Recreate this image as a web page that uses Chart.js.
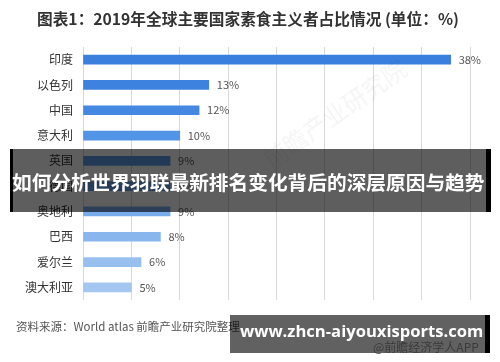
<!DOCTYPE html>
<html>
<head>
<meta charset="utf-8">
<script src="https://cdn.jsdelivr.net/npm/chart.js@4"></script>
<style>
 body{margin:0;background:#fff;}
 #wrap{position:relative;width:500px;height:362px;overflow:hidden;background:#fff;font-family:"Noto Sans CJK SC","Noto Sans",sans-serif;}
 #chart_paper{position:absolute;left:0;top:0;}
 .txt{position:absolute;white-space:nowrap;}
 #title{left:37px;top:7px;font-size:15.7px;font-weight:bold;color:#333;}
 #source{left:16px;top:318px;font-size:11.5px;color:#555;}
 #wm{left:250px;top:95px;font-size:24px;color:rgba(0,0,0,0.045);transform:rotate(-35deg);}
 #band{position:absolute;left:10px;top:149px;width:481px;height:63px;background:rgba(0,0,0,0.63);}
 #band_l{position:absolute;left:10px;top:149px;width:3px;height:63px;background:#000;}
 #band_r{position:absolute;left:486px;top:149px;width:5px;height:63px;background:#000;}
 #band_txt{left:12px;top:167px;font-size:19.7px;font-weight:bold;color:#fff;}
 #url{position:absolute;left:230px;top:315px;width:255px;height:38px;background:rgba(0,0,0,0.62);}
 #url_r{position:absolute;left:485px;top:315px;width:5px;height:38px;background:#000;}
 #url_txt{left:240px;top:319px;font-size:16.6px;font-weight:bold;color:#fff;font-family:"Open Sans",sans-serif;}
 #app{left:373px;top:338px;font-size:12px;color:#3a3a3a;}
</style>
</head>
<body>
<div id="wrap">
 <canvas id="chart_paper" width="500" height="362"></canvas>
 <div class="txt" id="title">图表1：2019年全球主要国家素食主义者占比情况 (单位：%)</div>
 <div class="txt" id="wm">前瞻产业研究院</div>
 <div class="txt" id="source">资料来源：World atlas 前瞻产业研究院整理</div>
 <div id="band"></div><div id="band_l"></div><div id="band_r"></div>
 <div class="txt" id="band_txt">如何分析世界羽联最新排名变化背后的深层原因与趋势</div>
 <div id="url"></div><div id="url_r"></div>
 <div class="txt" id="url_txt">www.zhcn-aiyouxisports.com</div>
 <div class="txt" id="app">@前瞻经济学人APP</div>
</div>
<script>
// data
var countries=["印度","以色列","中国","意大利","英国","德国","奥地利","巴西","爱尔兰","澳大利亚"];
var shares=[38,13,12,10,9,9,9,8,6,5];
var axis_max=40;
var axis_step=5;

// bar colours get lighter down the list
var bar_colors=["#3a7fdd","#3d82df","#4488e1","#5294e5","#5e9ce7","#6aa4e9","#78aceb","#88b6ed","#98c0ef","#a4c7f1"];

var valueLabels={
 id:"valueLabels",
 afterDatasetsDraw:function(chart){
  var ctx=chart.ctx;
  var meta=chart.getDatasetMeta(0);
  ctx.save();
  ctx.font="11px 'Noto Sans CJK SC', sans-serif";
  ctx.fillStyle="#555";
  ctx.textBaseline="middle";
  ctx.textAlign="left";
  meta.data.forEach(function(bar,i){
   ctx.fillText(shares[i]+"%",bar.x+8,bar.y);
  });
  ctx.restore();
 }
};

var chartid=document.getElementById("chart_paper");
var chart_obj=new Chart(chartid,{
 type:'bar',
 data:{
  labels:countries,
  datasets:[{
   data:shares,
   backgroundColor:bar_colors,
   barThickness:9
  }]
 },
 options:{
  indexAxis:'y',
  responsive:false,
  animation:false,
  layout:{padding:{top:47,bottom:62,right:30,left:0}},
  plugins:{legend:{display:false},tooltip:{enabled:false}},
  scales:{
   x:{
    min:0,max:axis_max,
    ticks:{display:false,stepSize:axis_step},
    grid:{color:"#d9d9d9",drawTicks:false},
    border:{display:false},
    afterFit:function(s){s.height=0;}
   },
   y:{
    ticks:{color:"#333",padding:10,font:{size:12,family:"'Noto Sans CJK SC', sans-serif"}},
    grid:{display:false,drawTicks:false},
    border:{display:false},
    afterFit:function(s){s.width=83;}
   }
  }
 },
 plugins:[valueLabels]
});
</script>
</body>
</html>
